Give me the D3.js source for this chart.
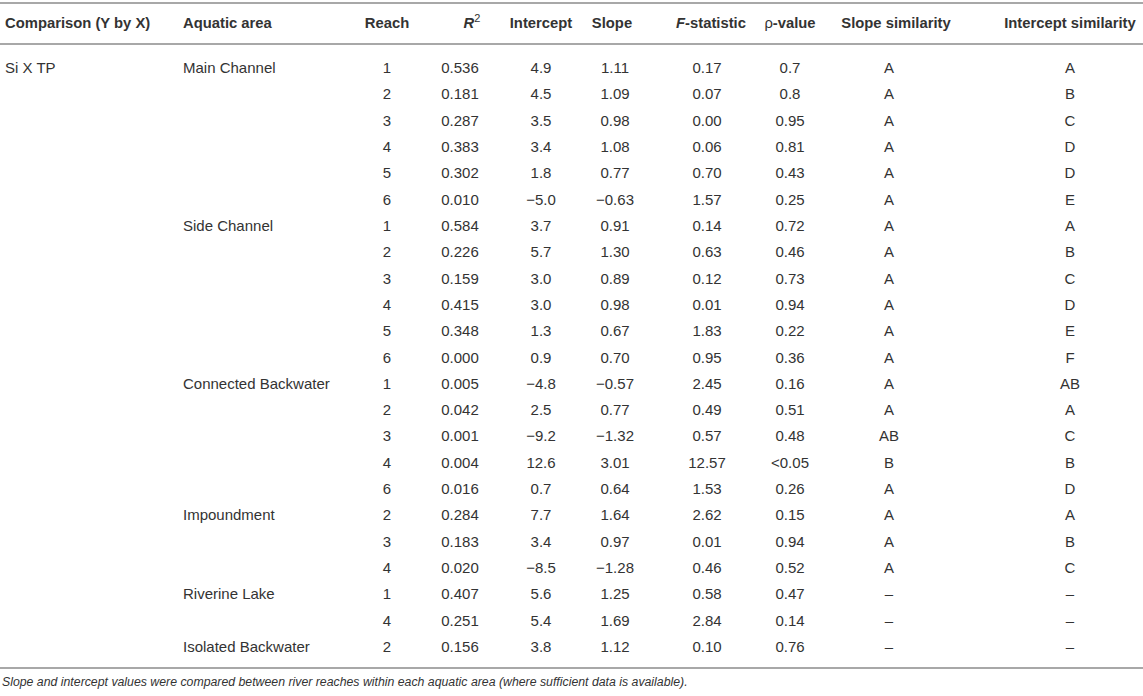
<!DOCTYPE html>
<html>
<head>
<meta charset="utf-8">
<script src="https://cdn.jsdelivr.net/npm/d3@7"></script>
<style>
  html, body { margin: 0; padding: 0; background: #fff; }
  svg { display: block; }
</style>
</head>
<body>
<svg id="chart" width="1143" height="696"></svg>
<script>
// Regression table: Si X TP by aquatic area and reach.

const comparison = ["Si X TP"];
const areas = ["Main Channel", "", "", "", "", "",
  "Side Channel", "", "", "", "", "",
  "Connected Backwater", "", "", "", "",
  "Impoundment", "", "",
  "Riverine Lake", "",
  "Isolated Backwater"];
const reaches = ["1", "2", "3", "4", "5", "6",
  "1", "2", "3", "4", "5", "6",
  "1", "2", "3", "4", "6",
  "2", "3", "4",
  "1", "4",
  "2"];
const rSquared = ["0.536", "0.181", "0.287", "0.383", "0.302", "0.010",
  "0.584", "0.226", "0.159", "0.415", "0.348", "0.000",
  "0.005", "0.042", "0.001", "0.004", "0.016",
  "0.284", "0.183", "0.020",
  "0.407", "0.251",
  "0.156"];
const intercepts = ["4.9", "4.5", "3.5", "3.4", "1.8", "−5.0",
  "3.7", "5.7", "3.0", "3.0", "1.3", "0.9",
  "−4.8", "2.5", "−9.2", "12.6", "0.7",
  "7.7", "3.4", "−8.5",
  "5.6", "5.4",
  "3.8"];
const slopes = ["1.11", "1.09", "0.98", "1.08", "0.77", "−0.63",
  "0.91", "1.30", "0.89", "0.98", "0.67", "0.70",
  "−0.57", "0.77", "−1.32", "3.01", "0.64",
  "1.64", "0.97", "−1.28",
  "1.25", "1.69",
  "1.12"];
const fStats = ["0.17", "0.07", "0.00", "0.06", "0.70", "1.57",
  "0.14", "0.63", "0.12", "0.01", "1.83", "0.95",
  "2.45", "0.49", "0.57", "12.57", "1.53",
  "2.62", "0.01", "0.46",
  "0.58", "2.84",
  "0.10"];
const pValues = ["0.7", "0.8", "0.95", "0.81", "0.43", "0.25",
  "0.72", "0.46", "0.73", "0.94", "0.22", "0.36",
  "0.16", "0.51", "0.48", "<0.05", "0.26",
  "0.15", "0.94", "0.52",
  "0.47", "0.14",
  "0.76"];
const slopeSim = ["A", "A", "A", "A", "A", "A",
  "A", "A", "A", "A", "A", "A",
  "A", "A", "AB", "B", "A",
  "A", "A", "A",
  "–", "–",
  "–"];
const interceptSim = ["A", "B", "C", "D", "D", "E",
  "A", "B", "C", "D", "E", "F",
  "AB", "A", "C", "B", "D",
  "A", "B", "C",
  "–", "–",
  "–"];
const footnote = "Slope and intercept values were compared between river reaches within each aquatic area (where sufficient data is available).";

const W = 1143, H = 696;
const FONT = "'Liberation Sans', Arial, Helvetica, sans-serif";
const TEXT = "#333", RULE = "#a8a8a8";

const columns = [
  { key: "comp", values: reaches.map((_, i) => i === 0 ? comparison[0] : ""), anchor: "start" },
  { key: "area", values: areas, anchor: "start" },
  { key: "reach", values: reaches, anchor: "middle" },
  { key: "r2", values: rSquared, anchor: "middle" },
  { key: "int", values: intercepts, anchor: "middle" },
  { key: "slope", values: slopes, anchor: "middle" },
  { key: "f", values: fStats, anchor: "middle" },
  { key: "p", values: pValues, anchor: "middle" },
  { key: "ssim", values: slopeSim, anchor: "middle" },
  { key: "isim", values: interceptSim, anchor: "middle" },
];
const colX = { comp: 5, area: 183, reach: 387, r2: 460, int: 541, slope: 615, f: 707, p: 790, ssim: 889, isim: 1070 };

const svg = d3.select("#chart");

const y = d3.scalePoint().domain(d3.range(reaches.length)).range([68, 647]);

// rules
svg.selectAll("line.rule").data([3, 44, 668]).enter().append("line")
  .attr("class", "rule")
  .attr("x1", 0).attr("x2", W).attr("y1", (d) => d).attr("y2", (d) => d)
  .attr("stroke", RULE).attr("stroke-width", 2);

// header
const head = svg.append("g")
  .style("font", `bold 14.8px ${FONT}`).style("fill", TEXT);
const hy = 28;
head.append("text").attr("x", colX.comp).attr("y", hy).text("Comparison (Y by X)");
head.append("text").attr("x", colX.area).attr("y", hy).text("Aquatic area");
head.append("text").attr("x", colX.reach).attr("y", hy).attr("text-anchor", "middle").text("Reach");
const r2h = head.append("text").attr("x", colX.r2 + 12).attr("y", hy).attr("text-anchor", "middle");
r2h.append("tspan").style("font-style", "italic").text("R");
r2h.append("tspan").attr("dy", -6).style("font-size", "11px").style("font-weight", "normal").text("2");
head.append("text").attr("x", colX.int).attr("y", hy).attr("text-anchor", "middle").text("Intercept");
head.append("text").attr("x", colX.slope - 3).attr("y", hy).attr("text-anchor", "middle").text("Slope");
const fh = head.append("text").attr("x", colX.f + 4).attr("y", hy).attr("text-anchor", "middle");
fh.append("tspan").style("font-style", "italic").text("F");
fh.append("tspan").text("-statistic");
const ph = head.append("text").attr("x", colX.p).attr("y", hy).attr("text-anchor", "middle");
ph.append("tspan").style("font-weight", "normal").text("ρ");
ph.append("tspan").text("-value");
head.append("text").attr("x", colX.ssim + 7).attr("y", hy).attr("text-anchor", "middle").text("Slope similarity");
head.append("text").attr("x", colX.isim).attr("y", hy).attr("text-anchor", "middle").text("Intercept similarity");

// body
const body = svg.append("g")
  .style("font", `15px ${FONT}`).style("fill", TEXT);
columns.forEach((col) => {
  body.append("g").selectAll("text")
    .data(col.values.map((v, i) => ({ v, i })).filter((d) => d.v !== ""))
    .enter().append("text")
    .attr("x", colX[col.key])
    .attr("y", (d) => y(d.i) + 5)
    .attr("text-anchor", col.anchor)
    .text((d) => d.v);
});

// footnote
svg.append("text")
  .attr("x", 2).attr("y", 686)
  .style("font", `italic 12.3px ${FONT}`).style("fill", TEXT)
  .text(footnote);
</script>
</body>
</html>
